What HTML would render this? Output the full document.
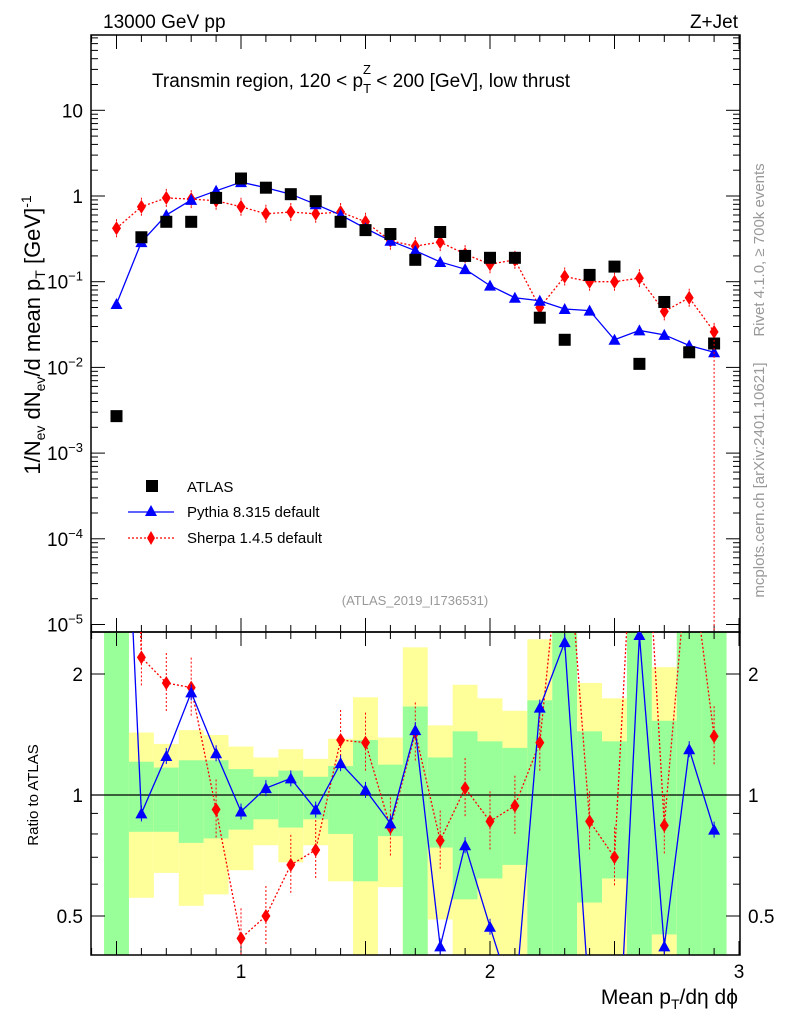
<!DOCTYPE html>
<html><head><meta charset="utf-8"><style>
html,body{margin:0;padding:0;background:#fff;overflow:hidden;width:786px;height:1024px;}
svg{display:block;font-family:"Liberation Sans",Arial,sans-serif;}
</style></head><body>
<svg id="c" width="786" height="1024" viewBox="0 0 786 1024" xmlns="http://www.w3.org/2000/svg">
<defs><clipPath id="rc"><rect x="91" y="632" width="649" height="323"/></clipPath></defs>
<g id="bands"></g>
<g id="grid"></g>
<g id="marks"></g>
<text x="103" y="28" font-size="19">13000 GeV pp</text>
<text x="738" y="28" font-size="19" text-anchor="end">Z+Jet</text>
<text x="152" y="87" font-size="19">Transmin region, 120 &lt; p<tspan font-size="13" dy="6">T</tspan><tspan font-size="13" dx="-8" dy="-19">Z</tspan><tspan dy="13"> &lt; 200 [GeV], low thrust</tspan></text>
<text x="415" y="605" font-size="13" fill="#999" text-anchor="middle">(ATLAS_2019_I1736531)</text>
<text transform="translate(764,250) rotate(-90)" font-size="15" fill="#999" text-anchor="middle">Rivet 4.1.0, ≥ 700k events</text>
<text transform="translate(764,480) rotate(-90)" font-size="15" fill="#999" text-anchor="middle">mcplots.cern.ch [arXiv:2401.10621]</text>
<text transform="translate(40,335) rotate(-90)" font-size="22" text-anchor="middle">1/N<tspan font-size="14" dy="5">ev</tspan><tspan dy="-5"> dN</tspan><tspan font-size="14" dy="5">ev</tspan><tspan dy="-5">/d mean p</tspan><tspan font-size="14" dy="5">T</tspan><tspan dy="-5"> [GeV]</tspan><tspan font-size="14" dy="-9">-1</tspan></text>
<text transform="translate(38,795) rotate(-90)" font-size="15" text-anchor="middle">Ratio to ATLAS</text>
<text x="738" y="1004" font-size="21" text-anchor="end">Mean p<tspan font-size="14" dy="5">T</tspan><tspan dy="-5">/dη dϕ</tspan></text>
<g>
<rect x="146" y="480" width="12" height="12" fill="#000"/>
<text x="187" y="492" font-size="15">ATLAS</text>
<line x1="128" y1="512" x2="174" y2="512" stroke="#00f" stroke-width="1.3"/>
<path d="M151,505 L157,516 L145,516Z" fill="#00f"/>
<text x="187" y="517" font-size="15">Pythia 8.315 default</text>
<line x1="128" y1="538" x2="174" y2="538" stroke="#f00" stroke-width="1.3" stroke-dasharray="2,2"/>
<path d="M151,531 L155,538 L151,545 L147,538Z" fill="#f00"/>
<text x="187" y="543" font-size="15">Sherpa 1.4.5 default</text>
</g>
</svg>
<script>
const xs=[0.5,0.6,0.7,0.8,0.9,1.0,1.1,1.2,1.3,1.4,1.5,1.6,1.7,1.8,1.9,2.0,2.1,2.2,2.3,2.4,2.5,2.6,2.7,2.8,2.9];
const atlas=[0.0027,0.33,0.5,0.5,0.95,1.6,1.25,1.05,0.87,0.5,0.4,0.36,0.18,0.38,0.2,0.19,0.19,0.038,0.021,0.12,0.15,0.011,0.058,0.015,0.019];
const pythia=[0.055,0.29,0.6,0.9,1.15,1.45,1.25,1.05,0.8,0.6,0.42,0.3,0.23,0.17,0.14,0.09,0.065,0.06,0.048,0.046,0.021,0.027,0.024,0.018,0.015];
const sherpa=[0.42,0.75,0.95,0.92,0.88,0.75,0.62,0.65,0.62,0.65,0.5,0.3,0.26,0.29,0.21,0.16,0.18,0.05,0.115,0.1,0.1,0.11,0.045,0.065,0.026];
const pyRatio=[20,0.9,1.25,1.8,1.27,0.91,1.04,1.1,0.92,1.2,1.03,0.85,1.45,0.42,0.75,0.47,0.3,1.65,2.4,0.3,0.14,2.5,0.42,1.3,0.82];
const shRatio=[150,2.2,1.9,1.85,0.92,0.44,0.5,0.67,0.73,1.37,1.35,0.83,1.43,0.77,1.04,0.86,0.94,1.35,5.5,0.86,0.7,10,0.84,4.3,1.4];
const greenHi=[3,1.21,1.17,1.22,1.22,1.16,1.11,1.15,1.11,1.18,1.37,1.19,1.66,1.24,1.44,1.36,1.31,1.72,3,1.44,1.36,3,1.53,3,3];
const greenLo=[0.3,0.81,0.81,0.76,0.78,0.82,0.87,0.83,0.87,0.80,0.61,0.79,0.3,0.74,0.55,0.62,0.67,0.3,0.3,0.54,0.62,0.3,0.45,0.3,0.3];
const yelHi=[3,1.43,1.34,1.45,1.41,1.32,1.24,1.30,1.23,1.38,1.75,1.39,2.33,1.49,1.88,1.74,1.62,2.44,3,1.90,1.74,3,2.08,3,3];
const yelLo=[0.3,0.555,0.64,0.53,0.566,0.65,0.75,0.68,0.75,0.61,0.3,0.59,0.3,0.49,0.3,0.3,0.3,0.3,0.3,0.3,0.3,0.3,0.3,0.3,0.3];
const yTicks=[10,1,0.1,0.01,0.001,0.0001,0.00001];
const yTickLabels=["10","1","10^-1","10^-2","10^-3","10^-4","10^-5"];
const xTicks=[1,2,3];
const rTicks=[0.5,1,2];

const NS="http://www.w3.org/2000/svg";
const L=91,R=740,T=35,MB=632,RB=955;
const X=v=>91.6+(v-0.4)*249;
const Y=v=>196-85.7*Math.log10(v);
const RY=v=>795-121*Math.log2(v);
function mk(tag,attrs,parent){const e=document.createElementNS(NS,tag);for(const k in attrs)e.setAttribute(k,attrs[k]);(parent||document.getElementById('marks')).appendChild(e);return e;}
const clampR=y=>Math.max(MB,Math.min(RB,y));

const bg=document.getElementById('bands');
xs.forEach((x,i)=>{
  const x0=X(x-0.05),x1=X(x+0.05);
  const y1=clampR(RY(yelHi[i])),y2=clampR(RY(yelLo[i]));
  const r=mk('rect',{x:x0,y:y1,width:x1-x0,height:y2-y1,fill:'#ffff99'},bg);
  
  
  const g1=clampR(RY(greenHi[i])),g2=clampR(RY(greenLo[i]));
  const g=mk('rect',{x:x0,y:g1,width:x1-x0,height:g2-g1,fill:'#99ff99'},bg);
  
  
});

const gr=document.getElementById('grid');
mk('rect',{x:L,y:T,width:R-L,height:MB-T,fill:'none',stroke:'#000','stroke-width':1.5},gr);
mk('rect',{x:L,y:MB,width:R-L,height:RB-MB,fill:'none',stroke:'#000','stroke-width':1.5},gr);
mk('line',{x1:L,x2:R,y1:RY(1),y2:RY(1),stroke:'#000','stroke-width':1.2},gr);
for(let d=-5;d<=1;d++){for(let m=1;m<10;m++){const v=m*Math.pow(10,d);const y=Y(v);if(y<T||y>MB)continue;const len=m==1?14:7;
  mk('line',{x1:L,x2:L+len,y1:y,y2:y,stroke:'#000'},gr);mk('line',{x1:R-len,x2:R,y1:y,y2:y,stroke:'#000'},gr);}}
yTicks.forEach((v,i)=>{const lab=yTickLabels[i];const t=mk('text',{x:L-8,y:Y(v)+7,'font-size':19,'text-anchor':'end'},gr);
  if(lab.includes('^')){const [b,e]=lab.split('^');t.textContent=b;const s=mk('tspan',{'font-size':13,dy:-8},t);s.textContent=e.replace('-','−');}else t.textContent=lab;
  
  });
for(let v=0.4;v<=3.001;v+=0.1){const x=X(v);const maj=Math.abs(v*2-Math.round(v*2))<0.01;const len=maj?14:7;
  [[T,T+len],[MB-len,MB],[MB,MB+len],[RB-len,RB]].forEach(p=>mk('line',{x1:x,x2:x,y1:p[0],y2:p[1],stroke:'#000'},gr));}
xTicks.forEach(v=>{const t=mk('text',{x:X(v),y:978,'font-size':19,'text-anchor':'middle'},gr);t.textContent=v;
  
  });
[0.5,0.6,0.7,0.8,0.9,1,2].forEach(v=>{const y=RY(v),len=rTicks.includes(v)?14:7;
  mk('line',{x1:L,x2:L+len,y1:y,y2:y,stroke:'#000'},gr);mk('line',{x1:R-len,x2:R,y1:y,y2:y,stroke:'#000'},gr);});
rTicks.forEach(v=>{[[L-8,'end'],[R+8,'start']].forEach(p=>{const t=mk('text',{x:p[0],y:RY(v)+7,'font-size':19,'text-anchor':p[1]},gr);t.textContent=v;
  
  });});

const mg=document.getElementById('marks');
mk('polyline',{points:xs.map((x,i)=>X(x)+','+Y(sherpa[i])).join(' '),fill:'none',stroke:'#f00','stroke-width':1.3,'stroke-dasharray':'2,2'},mg);
mk('polyline',{points:xs.map((x,i)=>X(x)+','+Y(pythia[i])).join(' '),fill:'none',stroke:'#00f','stroke-width':1.3},mg);
xs.forEach((x,i)=>{
  const cx=X(x);
  let y=Y(sherpa[i]);
  mk('line',{x1:cx,x2:cx,y1:y-9,y2:y+9,stroke:'#f00','stroke-dasharray':'2,2'},mg);
  const d=mk('path',{d:`M${cx},${y-7} L${cx+4.5},${y} L${cx},${y+7} L${cx-4.5},${y}Z`,fill:'#f00'},mg);
  
  
  y=Y(pythia[i]);
  const p=mk('path',{d:`M${cx},${y-6} L${cx+6},${y+5} L${cx-6},${y+5}Z`,fill:'#00f'},mg);
  
  
  y=Y(atlas[i]);
  const a=mk('rect',{x:cx-6,y:y-6,width:12,height:12,fill:'#000'},mg);
  
  
});
mk('line',{x1:X(2.9),x2:X(2.9),y1:Y(0.026),y2:MB,stroke:'#f00','stroke-dasharray':'2,2'},mg);

const rg=mk('g',{'clip-path':'url(#rc)'},mg);
mk('polyline',{points:xs.map((x,i)=>X(x)+','+RY(shRatio[i])).join(' '),fill:'none',stroke:'#f00','stroke-width':1.3,'stroke-dasharray':'2,2'},rg);
mk('polyline',{points:xs.map((x,i)=>X(x)+','+RY(pyRatio[i])).join(' '),fill:'none',stroke:'#00f','stroke-width':1.3},rg);
xs.forEach((x,i)=>{
  const cx=X(x);
  let y=RY(shRatio[i]);
  mk('line',{x1:cx,x2:cx,y1:y-30,y2:y+30,stroke:'#f00','stroke-dasharray':'2,2'},rg);
  const d=mk('path',{d:`M${cx},${y-7} L${cx+4.5},${y} L${cx},${y+7} L${cx-4.5},${y}Z`,fill:'#f00'},rg);
  
  
  y=RY(pyRatio[i]);
  mk('line',{x1:cx,x2:cx,y1:y-8,y2:y+8,stroke:'#00f'},rg);
  const p=mk('path',{d:`M${cx},${y-6} L${cx+6},${y+5} L${cx-6},${y+5}Z`,fill:'#00f'},rg);
  
  
});
</script>
</body></html>
